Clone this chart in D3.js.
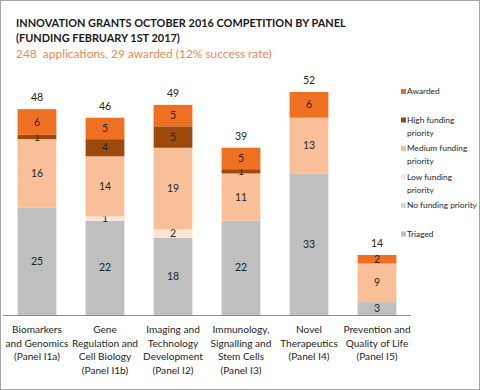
<!DOCTYPE html>
<html><head><meta charset="utf-8">
<script src="https://cdn.jsdelivr.net/npm/d3@7"></script>
<style>
html,body{margin:0;padding:0;background:#fff;}
svg{display:block;}
text{font-family:Lato,"Open Sans",sans-serif;}
</style></head>
<body>
<script>
const panels = [
  ["Biomarkers","and Genomics","(Panel I1a)"],
  ["Gene","Regulation and","Cell Biology","(Panel I1b)"],
  ["Imaging and","Technology","Development","(Panel I2)"],
  ["Immunology,","Signalling and","Stem Cells","(Panel I3)"],
  ["Novel","Therapeutics","(Panel I4)"],
  ["Prevention and","Quality of Life","(Panel I5)"]
];
const seriesNames = ["Triaged","No funding priority","Low funding priority","Medium funding priority","High funding priority","Awarded"];
const triaged   = [25,22,18,22,33,3];
const noFunding = [0,0,0,0,0,0];
const lowFunding= [0,1,2,0,0,0];
const medFunding= [16,14,19,11,13,9];
const highFunding=[1,4,5,1,0,0];
const awarded   = [6,5,5,5,6,2];
const totals    = [48,46,49,39,52,14];
const colors = ["#bfbfbf","#d9d9d9","#fce4d6","#f8bf98","#9c4a0c","#f07022"];
const legendOrder = [
  {i:5, lines:["Awarded"]},
  {i:4, lines:["High funding","priority"]},
  {i:3, lines:["Medium funding","priority"]},
  {i:2, lines:["Low funding","priority"]},
  {i:1, lines:["No funding priority"]},
  {i:0, lines:["Triaged"]}
];

const W=480,H=390;
const svg=d3.select("body").append("svg").attr("width",W).attr("height",H);
svg.append("rect").attr("x",0.5).attr("y",0.5).attr("width",W-1).attr("height",H-1)
  .attr("fill","#fff").attr("stroke","#a6a6a6");

function fitSize(sel, target){
  const n=sel.node();
  const fs=parseFloat(sel.attr("font-size"));
  const w=n.getComputedTextLength();
  return fs*target/w;
}

// titles
const t1=svg.append("text").attr("x",16).attr("y",27).attr("font-size",14).attr("font-weight","bold")
  .attr("fill","#1a1a1a").text("INNOVATION GRANTS OCTOBER 2016 COMPETITION BY PANEL");
const tfs=fitSize(t1,330);
t1.attr("font-size",tfs);
svg.append("text").attr("x",16).attr("y",42).attr("font-size",tfs).attr("font-weight","bold")
  .attr("fill","#1a1a1a").text("(FUNDING FEBRUARY 1ST 2017)");
const t3=svg.append("text").attr("x",16).attr("y",58).attr("font-size",13)
  .attr("fill","#f08a4b").attr("xml:space","preserve").text("248  applications, 29 awarded (12% success rate)");
t3.attr("font-size",fitSize(t3,256));

const data = panels.map((p,k)=>({
  idx:k, Triaged:triaged[k], "No funding priority":noFunding[k], "Low funding priority":lowFunding[k],
  "Medium funding priority":medFunding[k], "High funding priority":highFunding[k], Awarded:awarded[k]
}));
const stack=d3.stack().keys(seriesNames)(data);

const x=d3.scaleBand().domain(d3.range(panels.length)).range([3,411]).paddingInner(0.43).paddingOuter(0.215);
const y=d3.scaleLinear().domain([0,52]).range([315,92]);

const g=svg.append("g");
stack.forEach((s,si)=>{
  g.selectAll(null).data(s).enter().append("rect")
    .attr("x",d=>x(d.data.idx)).attr("width",x.bandwidth())
    .attr("y",d=>y(d[1])).attr("height",d=>y(d[0])-y(d[1]))
    .attr("fill",colors[si]);
  g.selectAll(null).data(s.filter(d=>d[1]-d[0]>0)).enter().append("text")
    .attr("x",d=>x(d.data.idx)+x.bandwidth()/2).attr("y",d=>(y(d[0])+y(d[1]))/2+3.5)
    .attr("text-anchor","middle").attr("font-size",10.5).attr("fill","#262626")
    .text(d=>d[1]-d[0]);
});
g.selectAll(null).data(totals).enter().append("text")
  .attr("x",(d,k)=>x(k)+x.bandwidth()/2).attr("y",d=>y(d)-8)
  .attr("text-anchor","middle").attr("font-size",10.5).attr("fill","#262626").text(d=>d);

// axis
const ax=svg.append("g").attr("transform","translate(0,315)")
  .call(d3.axisBottom(x).tickSize(0).tickFormat(""));
ax.select(".domain").attr("stroke","#8c8c8c").attr("d","M3,0.5H411");
// measure x label font size
const probe=svg.append("text").attr("font-size",11).text("and Genomics");
const xfs=fitSize(probe,63); probe.remove();
panels.forEach((lines,k)=>{
  const t=svg.append("text").attr("text-anchor","middle").attr("font-size",xfs).attr("fill","#262626");
  lines.forEach((l,j)=>t.append("tspan").attr("x",x(k)+x.bandwidth()/2).attr("y",333+j*13.7).text(l));
});

// legend
const probe2=svg.append("text").attr("font-size",10).text("No funding priority");
const lfs=fitSize(probe2,70); probe2.remove();
legendOrder.forEach((e,j)=>{
  const yy=94+j*28.5;
  svg.append("rect").attr("x",401).attr("y",yy-5).attr("width",5).attr("height",5).attr("fill",colors[e.i]);
  const t=svg.append("text").attr("font-size",lfs).attr("fill","#262626");
  e.lines.forEach((l,m)=>t.append("tspan").attr("x",407).attr("y",yy+m*13).text(l));
});
</script>
</body></html>
